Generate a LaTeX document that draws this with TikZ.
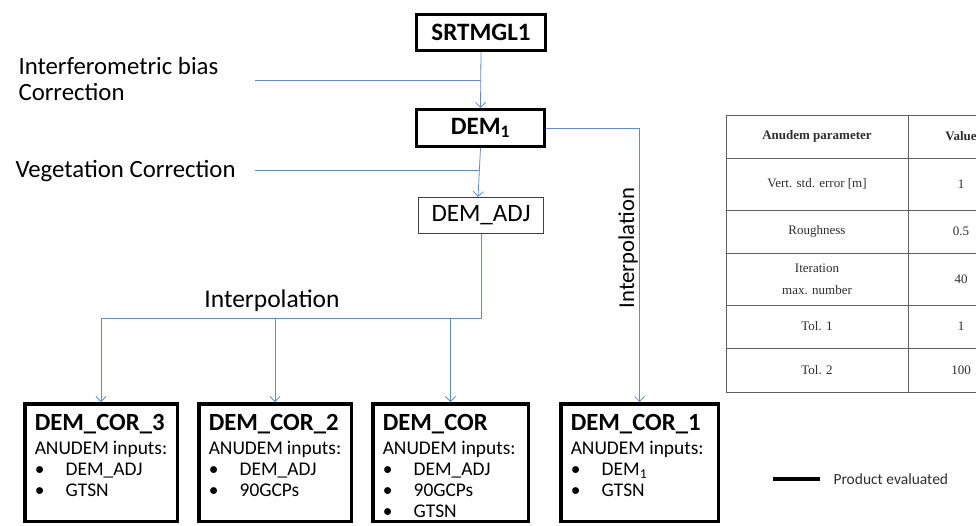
\documentclass[tikz,border=0pt]{standalone}
\usepackage{fontspec}
\setmainfont{Carlito}
\newfontfamily\tabfont{Liberation Serif}
\usetikzlibrary{positioning,arrows.meta}
\definecolor{linkblue}{RGB}{100,140,195}
\definecolor{gridgray}{RGB}{95,95,95}
\definecolor{inkgray}{RGB}{45,45,45}

\begin{document}
\begin{tikzpicture}[x=1pt,y=-1pt,
    prodnode/.style={draw=black, line width=3pt, inner sep=0pt, font=\fontsize{25}{28}\selectfont\bfseries},
    adjnode/.style={draw=black!75, line width=1pt, inner sep=0pt, font=\fontsize{25}{28}\selectfont},
    corbox/.style={draw=black, line width=3.5pt, anchor=north west, align=flush left, inner xsep=10pt, inner ysep=0pt,
        text height=26.5pt, text depth=91pt, font=\fontsize{19.4}{21}\selectfont},
    bluelink/.style={draw=linkblue, line width=0.8pt},
    blueflow/.style={bluelink, -{Straight Barb[length=5pt,width=10pt]}},
    stepnote/.style={anchor=base west, align=flush left, font=\fontsize{24.8}{26}\selectfont},
    cell/.style={text=inkgray, align=center, font=\tabfont\fontsize{13}{22}\selectfont}]
        \useasboundingbox (0,0) rectangle (976,525);
        %Nodes
        \node[prodnode, minimum width=129pt, minimum height=36pt] (srtm)   at (481,32.5)  {SRTMGL1};
        \node[prodnode, minimum width=128pt, minimum height=37pt] (dem1)   at (480.5,128) {DEM\textsubscript{1}};
        \node[adjnode,  minimum width=125pt, minimum height=36pt] (demadj) at (481,215.5) {DEM\_ADJ};
        \node[corbox, text width=132.5pt] (cor3) at (23,402)
            {{\fontsize{24.7}{25}\selectfont\bfseries DEM\_COR\_3}\\[3pt]
             ANUDEM inputs:\\
             \makebox[31pt][l]{\textbullet}DEM\_ADJ\\
             \makebox[31pt][l]{\textbullet}GTSN};
        \node[corbox, text width=132.5pt] (cor2) [right=18pt of cor3]
            {{\fontsize{24.7}{25}\selectfont\bfseries DEM\_COR\_2}\\[3pt]
             ANUDEM inputs:\\
             \makebox[31pt][l]{\textbullet}DEM\_ADJ\\
             \makebox[31pt][l]{\textbullet}90GCPs};
        \node[corbox, text width=135.5pt] (cor)  [right=18pt of cor2]
            {{\fontsize{24.7}{25}\selectfont\bfseries DEM\_COR}\\[3pt]
             ANUDEM inputs:\\
             \makebox[31pt][l]{\textbullet}DEM\_ADJ\\
             \makebox[31pt][l]{\textbullet}90GCPs\\
             \makebox[31pt][l]{\textbullet}GTSN};
        \node[corbox, text width=137.5pt] (cor1) [right=29pt of cor]
            {{\fontsize{24.7}{25}\selectfont\bfseries DEM\_COR\_1}\\[3pt]
             ANUDEM inputs:\\
             \makebox[31pt][l]{\textbullet}DEM\textsubscript{1}\\
             \makebox[31pt][l]{\textbullet}GTSN};
        %Labels
        \node[stepnote] (biasnote) at (15,100) {Interferometric bias\\Correction};
        \node[stepnote] (vegnote)  at (12,177) {Vegetation Correction};
        \node[anchor=base, font=\fontsize{25.5}{28}\selectfont] (interpa) at (272,307) {Interpolation};
        \node[rotate=90, font=\fontsize{22.7}{26}\selectfont] (interpb) at (628,248) {Interpolation};
        \coordinate (biasstart) at (255,80);
        \coordinate (vegstart)  at (255,170);
        \coordinate (fork)      at (101,318);
        %Lines
        \draw[blueflow] (srtm.south) -- (dem1.north);
        \draw[bluelink] (biasstart) -- (biasstart -| dem1.north);
        \draw[blueflow] (dem1.south) -- ([xshift=-3pt]demadj.north);
        \draw[bluelink] (vegstart) -- ([xshift=-2pt]vegstart -| dem1.south);
        \draw[bluelink] (demadj.south) |- (fork);
        \draw[blueflow] (fork) -- (cor3.north);
        \draw[blueflow] (fork -| cor2.north) -- (cor2.north);
        \draw[blueflow] (fork -| cor.north) -- (cor.north);
        \draw[blueflow] (dem1.east) -| (cor1.north);
        %Legend
        \node[anchor=west, text=inkgray, font=\fontsize{15.5}{18}\selectfont] (legendtxt) at (830,479) {Product evaluated};
        \coordinate (legendstart) at (773,479);
        \draw[line width=4pt] (legendstart) -- ([xshift=-10pt]legendtxt.west);
        %Table
        \foreach \ry in {115,158,210,253,305,348,392}
            \draw[gridgray, line width=0.9pt] (726,\ry) -- (980,\ry);
        \foreach \cx in {726,908}
            \draw[gridgray, line width=0.9pt] (\cx,115) -- (\cx,392);
        \node[cell, font=\tabfont\fontsize{13}{22}\selectfont\bfseries] (parhead) at (817,136.5) {Anudem parameter};
        \node[cell, font=\tabfont\fontsize{13}{22}\selectfont\bfseries] (valhead) at (961,136.5) {Value};
        \foreach \i/\cy/\param/\val in {1/184/{Vert. std. error [m]}/1, 2/231.5/Roughness/0.5,
                3/279/{Iteration\\max. number}/40, 4/326.5/Tol. 1/1, 5/370/Tol. 2/100}{
            \node[cell] (par\i) at (817,\cy) {\param};
            \node[cell] (val\i) at (961,\cy) {\val};
        }
    \end{tikzpicture}
\end{document}
